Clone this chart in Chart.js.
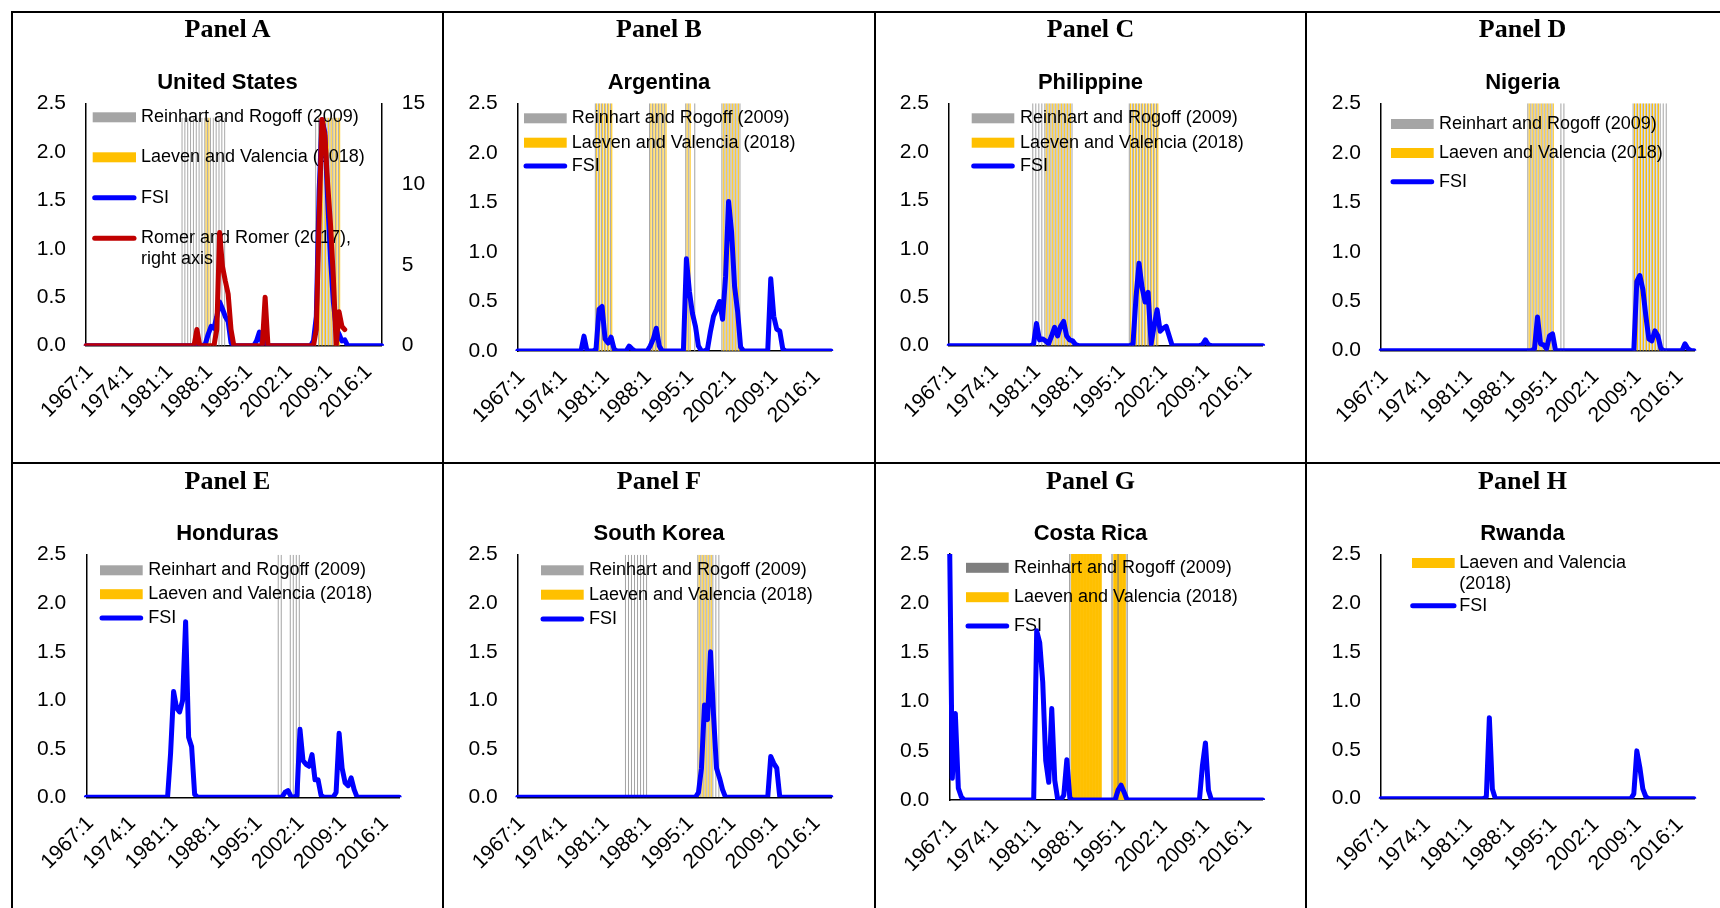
<!DOCTYPE html>
<html><head><meta charset="utf-8">
<script src="https://cdn.jsdelivr.net/npm/chart.js@4.4.1/dist/chart.umd.min.js"></script>
<style>
html,body{margin:0;padding:0;background:#fff;}
#page{position:relative;width:1720px;height:908px;overflow:hidden;background:#fff;}
#page canvas{position:absolute;}
.bl{position:absolute;background:#000;z-index:5;}
.ptitle{position:absolute;text-align:center;font-family:'Liberation Serif','Times New Roman',serif;font-weight:bold;font-size:26px;line-height:30px;color:#000;z-index:4;white-space:nowrap;}
.ctitle{position:absolute;text-align:center;font-family:'Liberation Sans',Arial,sans-serif;font-weight:bold;font-size:22px;line-height:26px;color:#000;z-index:4;white-space:nowrap;}
</style></head>
<body><div id="page"></div>
<script>
// ---------- categories (semiannual periods) ----------
const PERIODS = [];
for (let y = 1967; y <= 2019; y++) { PERIODS.push(y + ':1'); if (y < 2019) PERIODS.push(y + ':2'); }
const TICK_LABELS = ['1967:1','1974:1','1981:1','1988:1','1995:1','2002:1','2009:1','2016:1'];

// ---------- FSI series (105 semiannual values, 1967:1 .. 2019:1) ----------
const FSI_US = [
0,0,0,0,0,0,0,0,0,0, 0,0,0,0,0,0,0,0,0,0, 0,0,0,0,0,0,0,0,0,0, 0,0,0,0,0,0,0,0,0,0,
0,0,0.02,0.12,0.2,0.18,0.3,0.45,0.38,0.3, 0.25,0.03,0,0,0,0,0,0,0,0,
0.05,0.14,0.02,0.05,0,0,0,0,0,0, 0,0,0,0,0,0,0,0,0,0,
0.05,0.3,1.6,2.33,2.2,1.5,0.9,0.45,0.18,0.12, 0.05,0.06,0,0,0,0,0,0,0,0, 0,0,0,0,0];
const RR_US = [
0,0,0,0,0,0,0,0,0,0, 0,0,0,0,0,0,0,0,0,0, 0,0,0,0,0,0,0,0,0,0, 0,0,0,0,0,0,0,0,0,1,
0,0,0,0,0,0,1,7,4.9,4, 3.2,1,0,0,0,0,0,0,0,0, 0,0,0,3,0,0,0,0,0,0, 0,0,0,0,0,0,0,0,0,0,
0,1,8,14,13,10,7.5,4.2,0,2.1, 1.2,1.0,null,null,null,null,null,null,null,null, null,null,null,null,null];
const FSI_AR = [
0,0,0,0,0,0,0,0,0,0, 0,0,0,0,0,0,0,0,0,0, 0,0,0.15,0,0,0,0.02,0.42,0.45,0.12,
0.08,0.14,0.02,0,0,0,0,0.05,0.02,0, 0,0,0,0,0.05,0.12,0.23,0.05,0,0,
0,0,0,0,0,0,0.93,0.6,0.38,0.25, 0.05,0,0,0.02,0.2,0.35,0.42,0.5,0.32,0.75,
1.51,1.2,0.65,0.4,0.04,0,0,0,0,0, 0,0,0,0,0.73,0.35,0.22,0.2,0.02,0,
0,0,0,0,0,0,0,0,0,0, 0,0,0,0,0];
const FSI_PH = [
0,0,0,0,0,0,0,0,0,0, 0,0,0,0,0,0,0,0,0,0, 0,0,0,0,0,0,0,0,0.01,0.23,
0.06,0.07,0.05,0.02,0.1,0.19,0.1,0.2,0.25,0.1, 0.06,0.05,0.01,0,0,0,0,0,0,0,
0,0,0,0,0,0,0,0,0,0, 0,0.02,0.5,0.85,0.6,0.45,0.55,0.02,0.2,0.37,
0.15,0.18,0.2,0.1,0,0,0,0,0,0, 0,0,0,0,0.01,0.06,0.01,0,0,0,
0,0,0,0,0,0,0,0,0,0, 0,0,0,0,0];
const FSI_NG = [
0,0,0,0,0,0,0,0,0,0, 0,0,0,0,0,0,0,0,0,0, 0,0,0,0,0,0,0,0,0,0, 0,0,0,0,0,0,0,0,0,0,
0,0,0,0,0,0,0,0,0,0, 0,0.02,0.34,0.07,0.06,0.02,0.15,0.17,0,0,
0,0,0,0,0,0,0,0,0,0, 0,0,0,0,0,0,0,0,0,0,
0,0,0,0,0,0.7,0.76,0.62,0.35,0.12, 0.1,0.2,0.15,0.02,0,0,0,0,0,0, 0,0.07,0.02,0,0];
const FSI_HN = [
0,0,0,0,0,0,0,0,0,0, 0,0,0,0,0,0,0,0,0,0, 0,0,0,0,0,0,0,0,0.45,1.09,
0.92,0.88,1.0,1.81,0.62,0.52,0.03,0,0,0, 0,0,0,0,0,0,0,0,0,0,
0,0,0,0,0,0,0,0,0,0, 0,0,0,0,0,0,0.05,0.07,0.01,0,
0.02,0.7,0.38,0.34,0.32,0.44,0.18,0.18,0.02,0, 0,0,0,0.05,0.66,0.3,0.15,0.12,0.2,0.08,
0,0,0,0,0,0,0,0,0,0, 0,0,0,0,0];
const FSI_KR = [
0,0,0,0,0,0,0,0,0,0, 0,0,0,0,0,0,0,0,0,0, 0,0,0,0,0,0,0,0,0,0, 0,0,0,0,0,0,0,0,0,0,
0,0,0,0,0,0,0,0,0,0, 0,0,0,0,0,0,0,0,0,0,
0.05,0.3,0.95,0.8,1.5,0.85,0.3,0.2,0.08,0, 0,0,0,0,0,0,0,0,0,0,
0,0,0,0,0.42,0.35,0.3,0,0,0, 0,0,0,0,0,0,0,0,0,0, 0,0,0,0,0];
const FSI_CR = [
2.9,0.22,0.88,0.12,0.03,0,0,0,0,0, 0,0,0,0,0,0,0,0,0,0, 0,0,0,0,0,0,0,0,0,1.72,
1.6,1.2,0.4,0.18,0.93,0.2,0,0,0.05,0.41, 0.02,0,0,0,0,0,0,0,0,0,
0,0,0,0,0,0,0.1,0.15,0.08,0, 0,0,0,0,0,0,0,0,0,0, 0,0,0,0,0,0,0,0,0,0,
0,0,0,0,0.35,0.58,0.1,0,0,0, 0,0,0,0,0,0,0,0,0,0, 0,0,0,0,0];
const FSI_RW = [
0,0,0,0,0,0,0,0,0,0, 0,0,0,0,0,0,0,0,0,0, 0,0,0,0,0,0,0,0,0,0,
0,0,0,0,0,0.02,0.83,0.1,0,0, 0,0,0,0,0,0,0,0,0,0, 0,0,0,0,0,0,0,0,0,0,
0,0,0,0,0,0,0,0,0,0, 0,0,0,0,0,0,0,0,0,0,
0,0,0,0,0.05,0.49,0.32,0.1,0.02,0, 0,0,0,0,0,0,0,0,0,0, 0,0,0,0,0];

// ---------- crisis periods (shaded bars) ----------
const US_RR = [['1984:1','1991:2'],['2007:2','2011:2']];
const US_LV = [['1988:1','1988:2'],['2008:1','2011:2']];
const AR_RR = [['1980:1','1982:2'],['1989:1','1991:2'],['1995:1','1995:2'],['1996:2','1996:2'],['2001:1','2004:1']];
const AR_LV = [['1980:1','1982:2'],['1989:1','1991:2'],['1995:1','1995:2'],['2001:1','2003:2']];
const PH_RR = [['1981:1','1987:2'],['1997:1','2001:2']];
const PH_LV = [['1983:1','1987:1'],['1997:1','2001:2']];
const NG_RR = [['1991:2','1995:2'],['1997:1','1997:2'],['2009:1','2014:2']];
const NG_LV = [['1991:2','1995:2'],['2009:1','2013:1']];
const HN_RR = [['1999:1','1999:2'],['2001:1','2002:2']];
const HN_LV = [];
const KR_RR = [['1985:1','1988:2'],['1997:1','2000:2']];
const KR_LV = [['1997:1','1999:1']];
const CR_RR = [['1987:1','1987:1'],['1994:1','1994:1'],['1995:1','1995:1'],['1996:2','1996:2']];
const CR_LV = [['1987:2','1992:1'],['1994:2','1996:1']];
const RW_LV = [];

const C_GRAY = '#A5A5A5', C_GRAY_DARK = '#7F7F7F', C_YELLOW = '#FFC000', C_BLUE = '#0000FF', C_RED = '#C00000';
const T_RR = 'Reinhart and Rogoff (2009)', T_LV = 'Laeven and Valencia (2018)';

function crisisBars(ranges, h) {
  return PERIODS.map((p, i) => ranges.some(([a, b]) => i >= PERIODS.indexOf(a) && i <= PERIODS.indexOf(b)) ? h : null);
}

// ---------- layout ----------
const COL_X = [13, 444, 876, 1307], COL_W = [429, 430, 429, 413];
const ROW_Y = [13, 464], ROW_H = [449, 444];
const CELL_CX = [227.5, 659, 1090.5, 1522.5];
const PTITLE_TOP = [13.6, 465.8], CTITLE_TOP = [68.8, 520.2];

const GROUPED = {categoryPercentage: 0.9, barPercentage: 0.75, inflateAmount: 0, borderWidth: 0};

const PANELS = [
  {col:0,row:0,panel:'Panel A',title:'United States',plot:{l:86,r:381.7,t:103.3,b:345.7},
   fsi:FSI_US, rr:RR_US, gray:US_RR, yellow:US_LV, barTop:2.35,
   legend:{x0:92.7,x1:136,tx:141,items:[
     {kind:'rect',color:C_GRAY,y:117.3,text:[T_RR]},
     {kind:'rect',color:C_YELLOW,y:157.3,text:[T_LV]},
     {kind:'line',color:C_BLUE,y:197.7,text:['FSI']},
     {kind:'line',color:C_RED,y:238.3,text:['Romer and Romer (2017),','right axis']}]}},
  {col:1,row:0,panel:'Panel B',title:'Argentina',plot:{l:517.7,r:831,t:103.3,b:351},
   fsi:FSI_AR, gray:AR_RR, yellow:AR_LV, barTop:2.5,
   legend:{x0:524,x1:566.7,tx:571.7,items:[
     {kind:'rect',color:C_GRAY,y:118.3,text:[T_RR]},
     {kind:'rect',color:C_YELLOW,y:142.7,text:[T_LV]},
     {kind:'line',color:C_BLUE,y:166,text:['FSI']}]}},
  {col:2,row:0,panel:'Panel C',title:'Philippine',plot:{l:949,r:1262.7,t:103.3,b:345.7},
   fsi:FSI_PH, gray:PH_RR, yellow:PH_LV, barTop:2.5,
   legend:{x0:971.7,x1:1014.3,tx:1020,items:[
     {kind:'rect',color:C_GRAY,y:118.3,text:[T_RR]},
     {kind:'rect',color:C_YELLOW,y:142.7,text:[T_LV]},
     {kind:'line',color:C_BLUE,y:166,text:['FSI']}]}},
  {col:3,row:0,panel:'Panel D',title:'Nigeria',plot:{l:1381,r:1694,t:103.3,b:350.7},
   fsi:FSI_NG, gray:NG_RR, yellow:NG_LV, barTop:2.5,
   legend:{x0:1391,x1:1433.7,tx:1439,items:[
     {kind:'rect',color:C_GRAY,y:124,text:[T_RR]},
     {kind:'rect',color:C_YELLOW,y:153,text:[T_LV]},
     {kind:'line',color:C_BLUE,y:181.7,text:['FSI']}]}},
  {col:0,row:1,panel:'Panel E',title:'Honduras',plot:{l:86.3,r:399.3,t:554.7,b:797.3},
   fsi:FSI_HN, gray:HN_RR, yellow:HN_LV, barTop:2.5,
   legend:{x0:100,x1:142.7,tx:148.3,items:[
     {kind:'rect',color:C_GRAY,y:570.3,text:[T_RR]},
     {kind:'rect',color:C_YELLOW,y:594.2,text:[T_LV]},
     {kind:'line',color:C_BLUE,y:618,text:['FSI']}]}},
  {col:1,row:1,panel:'Panel F',title:'South Korea',plot:{l:517.7,r:831,t:554.7,b:797.3},
   fsi:FSI_KR, gray:KR_RR, yellow:KR_LV, barTop:2.5,
   legend:{x0:541,x1:583.7,tx:589,items:[
     {kind:'rect',color:C_GRAY,y:570.3,text:[T_RR]},
     {kind:'rect',color:C_YELLOW,y:594.7,text:[T_LV]},
     {kind:'line',color:C_BLUE,y:619,text:['FSI']}]}},
  {col:2,row:1,panel:'Panel G',title:'Costa Rica',plot:{l:949.3,r:1262.7,t:554,b:800},
   fsi:FSI_CR, gray:CR_RR, yellow:CR_LV, barTop:2.5, grayColor:C_GRAY_DARK,
   grayOpts:{grouped:false,categoryPercentage:1,barPercentage:0.35,inflateAmount:0,borderWidth:0},
   yellowOpts:{grouped:false,categoryPercentage:1,barPercentage:1,inflateAmount:0.3,borderWidth:0},
   legend:{x0:966,x1:1008.7,tx:1014,items:[
     {kind:'rect',color:C_GRAY_DARK,y:567.8,text:[T_RR]},
     {kind:'rect',color:C_YELLOW,y:597.2,text:[T_LV]},
     {kind:'line',color:C_BLUE,y:626,text:['FSI']}]}},
  {col:3,row:1,panel:'Panel H',title:'Rwanda',plot:{l:1381,r:1694,t:554.7,b:798.7},
   fsi:FSI_RW, yellow:RW_LV, barTop:2.5,
   legend:{x0:1412,x1:1454.7,tx:1459.3,items:[
     {kind:'rect',color:C_YELLOW,y:563,text:['Laeven and Valencia','(2018)']},
     {kind:'line',color:C_BLUE,y:605.7,x0:1410.7,x1:1456,text:['FSI']}]}}
];

Chart.defaults.font.family = "'Liberation Sans', Arial, sans-serif";
Chart.defaults.color = '#000';

function drawLegend(ctx, lg, ox, oy) {
  ctx.save();
  ctx.font = '18px "Liberation Sans", Arial, sans-serif';
  ctx.textBaseline = 'middle';
  ctx.textAlign = 'left';
  for (const it of lg.items) {
    const y = it.y - oy;
    const x0 = (it.x0 !== undefined ? it.x0 : lg.x0) - ox;
    const x1 = (it.x1 !== undefined ? it.x1 : lg.x1) - ox;
    if (it.kind === 'rect') {
      ctx.fillStyle = it.color;
      ctx.fillRect(x0, y - 5, x1 - x0, 10);
    } else {
      ctx.strokeStyle = it.color;
      ctx.lineWidth = 5;
      ctx.lineCap = 'round';
      ctx.beginPath(); ctx.moveTo(x0 + 2, y); ctx.lineTo(x1 - 2, y); ctx.stroke();
    }
    ctx.fillStyle = '#000';
    it.text.forEach((t, k) => ctx.fillText(t, lg.tx - ox, y + k * 21));
  }
  ctx.restore();
}

const legendPlugin = {
  id: 'panelLegend',
  beforeDatasetsDraw(chart) { chart.$legDone = false; },
  beforeDatasetDraw(chart, args) {
    if (chart.$legDone) return;
    if (args.meta.type === 'line') {
      chart.$legDone = true;
      const o = chart.options.plugins.panelLegend;
      drawLegend(chart.ctx, o.legend, o.ox, o.oy);
    }
  }
};

const page = document.getElementById('page');
// table borders
[[11, 11, 1709, 2], [11, 462, 1709, 2], [11, 11, 2, 897], [442, 11, 2, 897], [874, 11, 2, 897], [1305, 11, 2, 897]]
  .forEach(([l, t, w, h]) => { const d = document.createElement('div'); d.className = 'bl';
    d.style.left = l + 'px'; d.style.top = t + 'px'; d.style.width = w + 'px'; d.style.height = h + 'px'; page.appendChild(d); });

const YW = 60, Y2W = 60, XH = 80;

PANELS.forEach(p => {
  const cx = COL_X[p.col], cy = ROW_Y[p.row], cw = COL_W[p.col], ch = ROW_H[p.row];
  const pt = document.createElement('div'); pt.className = 'ptitle'; pt.textContent = p.panel;
  pt.style.left = (CELL_CX[p.col] - 200) + 'px'; pt.style.width = '400px'; pt.style.top = PTITLE_TOP[p.row] + 'px';
  page.appendChild(pt);
  const ct = document.createElement('div'); ct.className = 'ctitle'; ct.textContent = p.title;
  ct.style.left = (CELL_CX[p.col] - 200) + 'px'; ct.style.width = '400px'; ct.style.top = CTITLE_TOP[p.row] + 'px';
  page.appendChild(ct);

  const cv = document.createElement('canvas');
  cv.width = cw; cv.height = ch;
  cv.style.left = cx + 'px'; cv.style.top = cy + 'px'; cv.style.width = cw + 'px'; cv.style.height = ch + 'px';
  page.appendChild(cv);

  const lineBase = {type: 'line', pointRadius: 0, borderWidth: 5, tension: 0, fill: false,
                    borderJoinStyle: 'round', borderCapStyle: 'round', spanGaps: false};
  const ds = [];
  if (p.rr) ds.push(Object.assign({}, lineBase, {label: 'Romer and Romer (2017), right axis', data: p.rr, yAxisID: 'y2', borderColor: C_RED}));
  ds.push(Object.assign({}, lineBase, {label: 'FSI', data: p.fsi, yAxisID: 'y', borderColor: C_BLUE}));
  if (p.gray) ds.push(Object.assign({type: 'bar', label: T_RR, data: crisisBars(p.gray, p.barTop), yAxisID: 'y',
      backgroundColor: p.grayColor || C_GRAY}, p.grayOpts || GROUPED));
  if (p.yellow) ds.push(Object.assign({type: 'bar', label: T_LV, data: crisisBars(p.yellow, p.barTop), yAxisID: 'y',
      backgroundColor: C_YELLOW}, p.yellowOpts || GROUPED));

  const border = {display: true, color: '#000', width: 1.5};
  const scales = {
    x: {type: 'category', offset: false, grid: {display: false, drawTicks: false}, border: border,
        ticks: {autoSkip: false, minRotation: 45, maxRotation: 45, padding: 14, labelOffset: 4, color: '#000', font: {size: 21},
                callback: (v, i) => TICK_LABELS.includes(PERIODS[i]) ? PERIODS[i] : ''},
        afterFit: s => { s.height = XH; s.paddingLeft = 0; s.paddingRight = 0; }},
    y: {position: 'left', min: 0, max: 2.5, grid: {display: false, drawTicks: false}, border: border,
        ticks: {stepSize: 0.5, padding: 20, color: '#000', font: {size: 21}, callback: v => Number(v).toFixed(1)},
        afterFit: s => { s.width = YW; s.paddingTop = 0; s.paddingBottom = 0; }}
  };
  if (p.rr) scales.y2 = {position: 'right', min: 0, max: 15, grid: {display: false, drawTicks: false}, border: border,
        ticks: {stepSize: 5, padding: 20, color: '#000', font: {size: 21}},
        afterFit: s => { s.width = Y2W; s.paddingTop = 0; s.paddingBottom = 0; }};

  new Chart(cv, {
    data: {labels: PERIODS, datasets: ds},
    options: {
      responsive: false, animation: false, devicePixelRatio: 1,
      layout: {padding: {
        left: p.plot.l - cx - YW,
        right: (cx + cw) - p.plot.r - (p.rr ? Y2W : 0),
        top: p.plot.t - cy,
        bottom: (cy + ch) - p.plot.b - XH}},
      plugins: {legend: {display: false}, tooltip: {enabled: false}, title: {display: false},
                panelLegend: {legend: p.legend, ox: cx, oy: cy}},
      scales: scales
    },
    plugins: [legendPlugin]
  });
});
</script></body></html>
